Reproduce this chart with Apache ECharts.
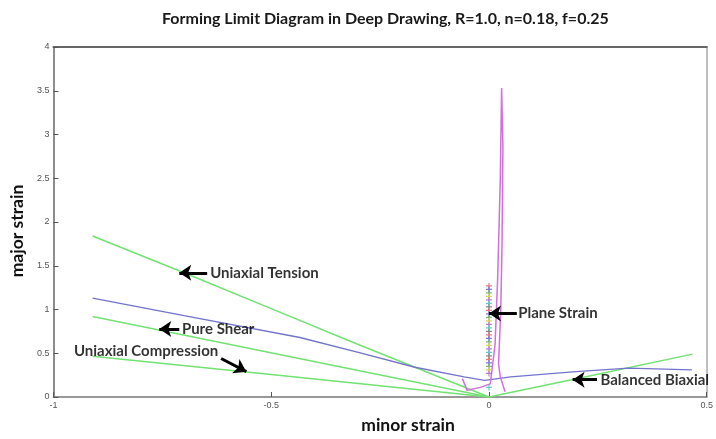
<!DOCTYPE html>
<html>
<head>
<meta charset="utf-8">
<script src="https://cdn.jsdelivr.net/npm/echarts@6/dist/echarts.min.js"></script>
<style>html,body{margin:0;padding:0;background:#fff}#c{width:716px;height:439px}</style>
</head>
<body>
<div id="c"></div>
<script>
// ---- data ----
const titleText = 'Forming Limit Diagram in Deep Drawing, R=1.0, n=0.18, f=0.25';
const xTicks = [-1, -0.5, 0, 0.5];
const yTicks = [0, 0.5, 1, 1.5, 2, 2.5, 3, 3.5, 4];

const tensionX = [-0.91, -0.7, -0.5, -0.3, -0.1, 0];
const tensionY = [1.84, 1.42, 1.01, 0.6, 0.2, 0];
const shearX = [-0.91, -0.45, 0];
const shearY = [0.92, 0.455, 0];
const compressionX = [-0.91, -0.45, 0];
const compressionY = [0.465, 0.232, 0];
const biaxialX = [0, 0.25, 0.467];
const biaxialY = [0, 0.26, 0.49];

const flcX = [-0.91, -0.7, -0.434, -0.3, -0.17, -0.057, -0.01, 0.05, 0.2, 0.32, 0.466];
const flcY = [1.13, 0.93, 0.68, 0.51, 0.34, 0.23, 0.19, 0.23, 0.29, 0.33, 0.31];

const pathX = [-0.061, -0.05, -0.02, 0.003, 0.014, 0.02, 0.026, 0.029, 0.032, 0.03, 0.027, 0.022, 0.026, 0.037];
const pathY = [0.21, 0.076, 0.11, 0.15, 0.6, 1.36, 2.49, 3.53, 2.87, 1.74, 0.98, 0.38, 0.23, 0.06];

const plusY = [1.27, 1.23, 1.19, 1.15, 1.11, 1.07, 1.03, 0.99, 0.95, 0.91, 0.87, 0.83, 0.79, 0.75,
               0.71, 0.67, 0.63, 0.59, 0.55, 0.51, 0.47, 0.43, 0.39, 0.35, 0.31, 0.27, 0.11];
const plusColors = ['#e05a5a', '#5a5ad0', '#5aa85a', '#d8c832', '#a85ac8', '#3cc0c0', '#6a6a6a'];

const annText = ['Uniaxial Tension', 'Pure Shear', 'Uniaxial Compression', 'Plane Strain', 'Balanced Biaxial'];
const annTextPos = [[-0.640, 1.42], [-0.705, 0.776], [-0.953, 0.529], [0.067, 0.955], [0.256, 0.198]];
const annTail = [[-0.647, 1.42], [-0.711, 0.776], [-0.615, 0.44], [0.064, 0.955], [0.248, 0.198]];
const annTip = [[-0.711, 1.42], [-0.757, 0.776], [-0.557, 0.29], [0.0, 0.955], [0.192, 0.198]];

// ---- build ----
const zip = (xs, ys) => xs.map((x, i) => [x, ys[i]]);
const green = '#72e272';
const lineSeries = (name, xs, ys, color) => ({
  name, type: 'line', data: zip(xs, ys), showSymbol: false, symbol: 'none',
  lineStyle: { color, width: 1.5 }, z: 3, animation: false
});
const plusPath = 'path://M4,0h2v4h4v2h-4v4h-2v-4h-4v-2h4z';
const annFont = 'Lato';

const chart = echarts.init(document.getElementById('c'), null, { renderer: 'canvas' });
chart.setOption({
  animation: false,
  backgroundColor: '#fff',
  title: {
    text: titleText, left: 157, top: 6,
    textStyle: { fontFamily: annFont, fontWeight: 'bold', fontSize: 16, color: '#1a1a1a' }
  },
  grid: { left: 51, right: 3, top: 47, bottom: 39, show: false },
  xAxis: [{
    type: 'value', min: xTicks[0], max: xTicks[xTicks.length - 1], interval: 0.5,
    name: 'minor strain', nameLocation: 'middle', nameGap: 19,
    nameTextStyle: { fontFamily: annFont, fontWeight: 'bold', fontSize: 17.5, color: '#111', padding: [0, 0, 0, 56] },
    axisLine: { onZero: false, lineStyle: { color: '#777', width: 1.5 } },
    axisTick: { inside: true, length: 5, lineStyle: { color: '#555' } },
    axisLabel: { fontSize: 9, color: '#555', margin: 4, fontFamily: 'Liberation Sans' },
    splitLine: { show: false }
  }, {
    type: 'value', position: 'top', min: xTicks[0], max: xTicks[xTicks.length - 1], interval: 0.5,
    axisLine: { show: true, onZero: false, lineStyle: { color: '#666', width: 2 } },
    axisTick: { show: false }, axisLabel: { show: false }, splitLine: { show: false }
  }],
  yAxis: [{
    type: 'value', min: yTicks[0], max: yTicks[yTicks.length - 1], interval: 0.5,
    name: 'major strain', nameLocation: 'middle', nameGap: 26, nameRotate: 90,
    nameTextStyle: { fontFamily: annFont, fontWeight: 'bold', fontSize: 17.5, color: '#111', padding: [0, 18, 0, 0] },
    axisLine: { show: true, onZero: false, lineStyle: { color: '#666', width: 1.5 } },
    axisTick: { show: true, inside: true, length: 5, lineStyle: { color: '#555' } },
    axisLabel: { fontSize: 9, color: '#555', margin: 4, fontFamily: 'Liberation Sans' },
    splitLine: { show: false }
  }, {
    type: 'value', position: 'right', min: yTicks[0], max: yTicks[yTicks.length - 1], interval: 0.5,
    axisLine: { show: true, onZero: false, lineStyle: { color: '#aaa', width: 1.5 } },
    axisTick: { show: false }, axisLabel: { show: false }, splitLine: { show: false }
  }],
  series: [
    lineSeries('Uniaxial Tension', tensionX, tensionY, green),
    lineSeries('Pure Shear', shearX, shearY, green),
    lineSeries('Uniaxial Compression', compressionX, compressionY, green),
    lineSeries('Balanced Biaxial', biaxialX, biaxialY, green),
    lineSeries('FLC', flcX, flcY, '#7474cc'),
    lineSeries('Strain path', pathX, pathY, '#d070dc'),
    {
      name: 'Plane strain points', type: 'scatter', symbol: plusPath, symbolSize: 6, z: 4,
      data: plusY.map((y, i) => ({ value: [0, y], itemStyle: { color: plusColors[i % plusColors.length] } }))
    },
    {
      name: 'Annotations', type: 'scatter', symbolSize: 0, z: 10, silent: true,
      data: annText.map((t, i) => ({ value: annTextPos[i], name: t })),
      label: {
        show: true, position: 'right', distance: 0, formatter: p => p.name,
        fontFamily: annFont, fontWeight: 'bold', fontSize: 15, color: '#000'
      },
      markLine: {
        silent: true, symbol: ['none', 'arrow'], symbolSize: 12, precision: 4,
        lineStyle: { color: '#000', width: 3, type: 'solid' }, label: { show: false },
        emphasis: { disabled: true },
        data: annTail.map((t, i) => [{ coord: t }, { coord: annTip[i] }])
      }
    }
  ]
});
</script>
</body>
</html>
